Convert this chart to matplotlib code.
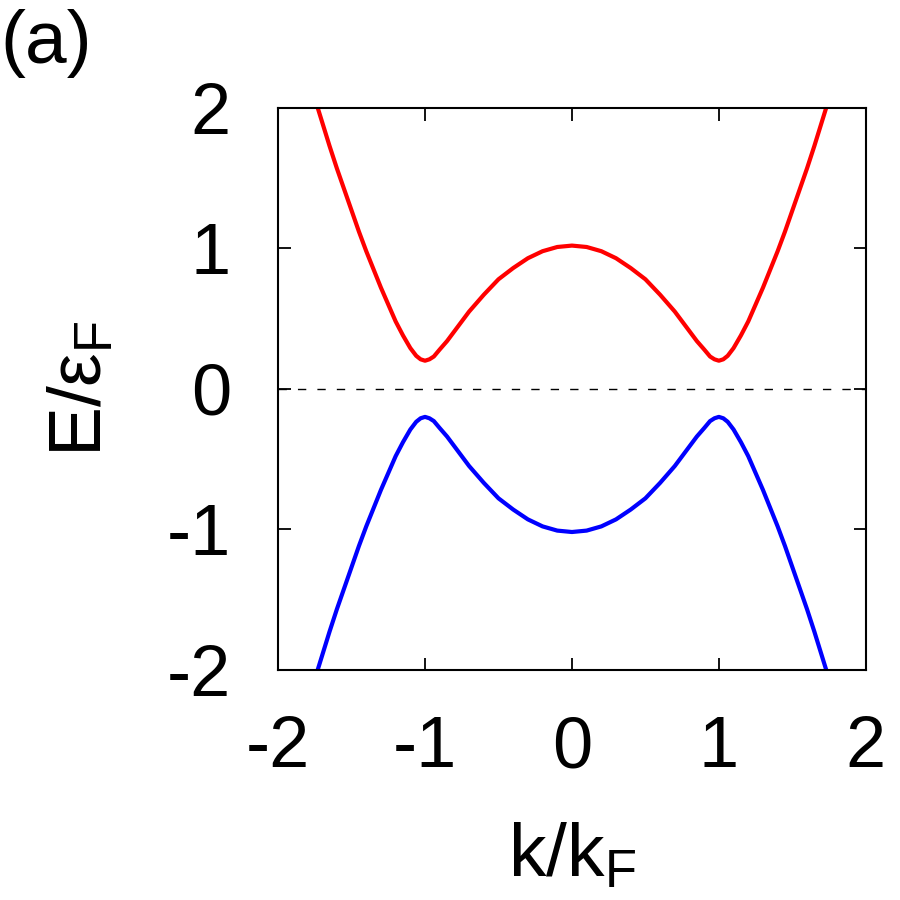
import matplotlib
matplotlib.use('Agg')
import matplotlib.pyplot as plt

plt.rcParams['font.family'] = ['Liberation Sans', 'DejaVu Sans']
plt.rcParams['mathtext.fontset'] = 'custom'
plt.rcParams['mathtext.rm'] = 'Liberation Sans'
plt.rcParams['mathtext.it'] = 'Liberation Sans'
plt.rcParams['axes.unicode_minus'] = False

# values
k_vals = [-1.73, -1.65, -1.6, -1.5, -1.45, -1.4, -1.35, -1.3, -1.25, -1.2, -1.15,
          -1.1, -1.06, -1.03, -1.0, -0.97, -0.94, -0.9, -0.85, -0.8, -0.75, -0.7,
          -0.65, -0.6, -0.5, -0.4, -0.3, -0.2, -0.1, 0.0,
          0.1, 0.2, 0.3, 0.4, 0.5, 0.6, 0.65, 0.7, 0.75, 0.8, 0.85, 0.9, 0.94,
          0.97, 1.0, 1.03, 1.06, 1.1, 1.15, 1.2, 1.25, 1.3, 1.35, 1.4, 1.45, 1.5,
          1.6, 1.65, 1.73]
e_upper = [2.00, 1.73, 1.57, 1.27, 1.12, 0.98, 0.85, 0.72, 0.60, 0.48, 0.38,
           0.29, 0.235, 0.21, 0.20, 0.21, 0.23, 0.28, 0.34, 0.41, 0.48, 0.55,
           0.61, 0.67, 0.78, 0.86, 0.93, 0.98, 1.01, 1.02,
           1.01, 0.98, 0.93, 0.86, 0.78, 0.67, 0.61, 0.55, 0.48, 0.41, 0.34, 0.28, 0.23,
           0.21, 0.20, 0.21, 0.235, 0.29, 0.38, 0.48, 0.60, 0.72, 0.85, 0.98, 1.12, 1.27,
           1.57, 1.73, 2.00]
e_lower = [-2.00, -1.73, -1.57, -1.27, -1.12, -0.98, -0.85, -0.72, -0.60, -0.48, -0.38,
           -0.29, -0.235, -0.21, -0.20, -0.21, -0.23, -0.28, -0.34, -0.41, -0.48, -0.55,
           -0.61, -0.67, -0.78, -0.86, -0.93, -0.98, -1.01, -1.02,
           -1.01, -0.98, -0.93, -0.86, -0.78, -0.67, -0.61, -0.55, -0.48, -0.41, -0.34, -0.28, -0.23,
           -0.21, -0.20, -0.21, -0.235, -0.29, -0.38, -0.48, -0.60, -0.72, -0.85, -0.98, -1.12, -1.27,
           -1.57, -1.73, -2.00]
ticks = [-2, -1, 0, 1, 2]

fig = plt.figure(figsize=(9, 9), dpi=100)
ax = fig.add_axes([0.309, 0.256, 0.653, 0.624])

ax.axhline(0, color='black', lw=1.0, ls=(0, (6, 8)))
ax.plot(k_vals, e_upper, color='#ff0000', lw=3.0, solid_joinstyle='round')
ax.plot(k_vals, e_lower, color='#0000ff', lw=3.0, solid_joinstyle='round')

ax.set_xlim(-2, 2)
ax.set_ylim(-2, 2)
ax.set_xticks(ticks)
ax.set_yticks(ticks)
ax.set_xticklabels([str(t) for t in ticks])
ax.set_yticklabels([str(t) for t in ticks])
for s in ax.spines.values():
    s.set_linewidth(1.5)
ax.tick_params(direction='in', length=9, width=1.3, top=True, right=True,
               labelsize=52)
ax.tick_params(axis='x', pad=33)
ax.tick_params(axis='y', pad=34)

ax.set_xlabel('k/k$_\\mathrm{F}$', fontsize=54, labelpad=28)
ax.set_ylabel('E/ε$_\\mathrm{F}$', fontsize=54, labelpad=36)

fig.text(0.0, 0.99, '(a)', fontsize=54, va='top', ha='left')

fig.savefig('out.png', dpi=100)
